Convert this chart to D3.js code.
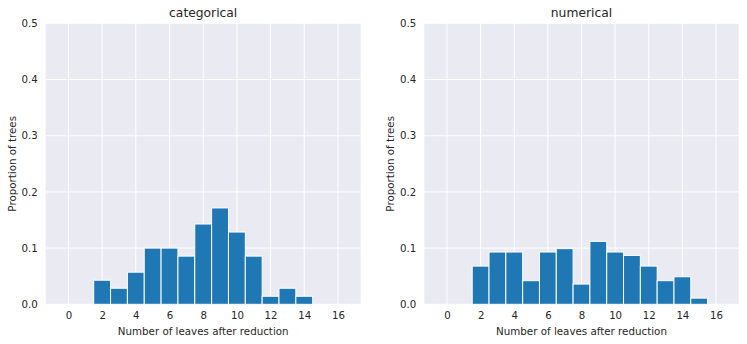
<!DOCTYPE html>
<html>
<head>
<meta charset="utf-8">
<script src="https://cdn.jsdelivr.net/npm/d3@7"></script>
<style>
  body { margin: 0; background: #fff; }
  text { font-family: "DejaVu Sans", sans-serif; fill: #262626; }
</style>
</head>
<body>
<script>
var width = 747,
    height = 344;

// bin centres 0..16, proportions
var leaves = d3.range(0, 17);
var categorical = [0, 0, 3/70, 2/70, 4/70, 7/70, 7/70, 6/70, 10/70, 12/70, 9/70, 6/70, 1/70, 2/70, 1/70, 0, 0];
var numerical = [0, 0, 0.068, 0.093, 0.093, 0.042, 0.093, 0.099, 0.036, 0.112, 0.093, 0.087, 0.068, 0.042, 0.049, 0.011, 0];
var xTicks = [0, 2, 4, 6, 8, 10, 12, 14, 16];
var yTicks = [0, 0.1, 0.2, 0.3, 0.4, 0.5];

var panels = [
    { title: "categorical", values: categorical, left: 45.7, right: 360.7 },
    { title: "numerical", values: numerical, left: 424.3, right: 738.7 }
];

var plotTop = 23.3, plotBottom = 304.3;

var svg = d3.select("body")
    .append("svg")
    .attr("width", width)
    .attr("height", height);

panels.forEach(function (p) {
    var x = d3.scaleLinear().domain([-1.35, 17.35]).range([p.left, p.right]);
    var y = d3.scaleLinear().domain([0, 0.5]).range([plotBottom, plotTop]);

    var g = svg.append("g");

    g.append("rect")
        .attr("x", p.left)
        .attr("y", plotTop)
        .attr("width", p.right - p.left)
        .attr("height", plotBottom - plotTop)
        .style("fill", "#eaeaf2");

    // grid
    g.selectAll("line.vx")
        .data(xTicks)
        .enter()
        .append("line")
        .attr("x1", function (d) { return x(d); })
        .attr("x2", function (d) { return x(d); })
        .attr("y1", plotTop)
        .attr("y2", plotBottom)
        .style("stroke", "#fff")
        .style("stroke-width", 1);

    g.selectAll("line.hy")
        .data(yTicks)
        .enter()
        .append("line")
        .attr("x1", p.left)
        .attr("x2", p.right)
        .attr("y1", function (d) { return y(d); })
        .attr("y2", function (d) { return y(d); })
        .style("stroke", "#fff")
        .style("stroke-width", 1);

    // bars
    g.selectAll("rect.bar")
        .data(p.values.map(function (v, i) { return { n: leaves[i], v: v }; })
            .filter(function (d) { return d.v > 0; }))
        .enter()
        .append("rect")
        .attr("class", "bar")
        .attr("x", function (d) { return x(d.n - 0.5); })
        .attr("width", function (d) { return x(d.n + 0.5) - x(d.n - 0.5); })
        .attr("y", function (d) { return y(d.v); })
        .attr("height", function (d) { return y(0) - y(d.v); })
        .style("fill", "#1f77b4")
        .style("stroke", "#fff")
        .style("stroke-width", 1);

    // axes
    var xAxis = d3.axisBottom(x).tickValues(xTicks).tickSize(0).tickPadding(7);
    g.append("g")
        .attr("transform", "translate(0," + plotBottom + ")")
        .call(xAxis)
        .call(function (a) { a.select(".domain").remove(); })
        .selectAll("text")
        .style("font-size", "10.2px")
        .style("fill", "#262626");

    var yAxis = d3.axisLeft(y).tickValues(yTicks).tickSize(0).tickPadding(8)
        .tickFormat(d3.format(".1f"));
    g.append("g")
        .attr("transform", "translate(" + p.left + ",0)")
        .call(yAxis)
        .call(function (a) { a.select(".domain").remove(); })
        .selectAll("text")
        .style("font-size", "10.2px")
        .style("fill", "#262626");

    g.append("text")
        .attr("x", (p.left + p.right) / 2)
        .attr("y", 17)
        .attr("text-anchor", "middle")
        .style("font-size", "12.3px")
        .text(p.title);

    g.append("text")
        .attr("x", (p.left + p.right) / 2)
        .attr("y", 334.5)
        .attr("text-anchor", "middle")
        .style("font-size", "10.3px")
        .text("Number of leaves after reduction");

    g.append("text")
        .attr("transform", "translate(" + (p.left - 30) + "," + ((plotTop + plotBottom) / 2) + ") rotate(-90)")
        .attr("text-anchor", "middle")
        .style("font-size", "10.3px")
        .text("Proportion of trees");
});
</script>
</body>
</html>
